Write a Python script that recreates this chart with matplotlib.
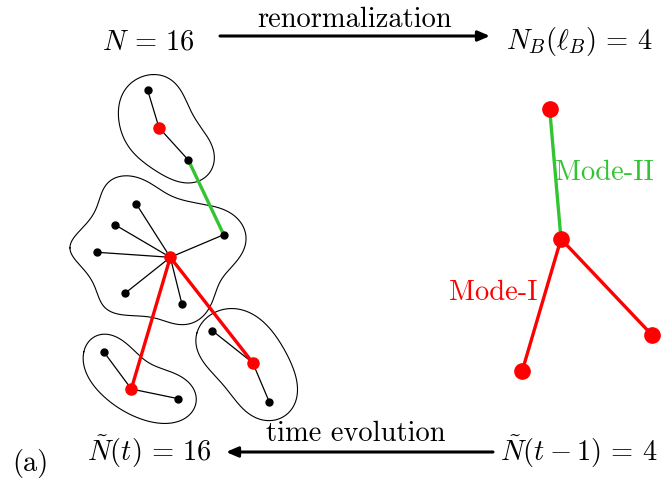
import numpy as np
import matplotlib
matplotlib.use("Agg")
import matplotlib.pyplot as plt

plt.rcParams['mathtext.fontset'] = 'cm'

# node positions (picture pixels, y down)
top_nodes = [(147.7, 90.3), (159.0, 127.7), (188.3, 160.0)]
hub = (170.3, 257.3)
hub_leaves = [(136.3, 204.0), (115.3, 225.0), (97.3, 252.3),
              (125.0, 293.3), (182.0, 304.3), (223.7, 234.7)]
bl_nodes = [(103.7, 351.7), (131.3, 389.0), (178.3, 398.7)]
br_nodes = [(212.3, 330.7), (252.7, 362.7), (269.3, 402.0)]

# renormalized network
boxes = [(549.7, 109.3), (561.0, 239.0), (522.3, 370.7), (652.0, 335.0)]

# box outlines (control points)
blob_top = [(153, 75), (172, 80), (183, 95), (197, 122), (212, 145), (213, 165),
            (203, 180), (183, 182), (157, 172), (133, 152), (120, 128), (120, 102), (130, 83)]
blob_mid = [(68, 248), (80, 230), (93, 217), (102, 190), (117, 177), (137, 178),
            (167, 193), (190, 202), (213, 207), (233, 213), (245, 232), (242, 253),
            (223, 277), (213, 300), (200, 318), (180, 325), (160, 320), (137, 315),
            (110, 312), (98, 300), (92, 277), (77, 263)]
blob_bl = [(83, 352), (92, 338), (108, 334), (125, 343), (142, 358), (165, 370),
           (188, 382), (197, 400), (188, 417), (165, 423), (135, 417), (108, 400), (90, 380)]
blob_br = [(197, 333), (207, 317), (223, 310), (250, 312), (273, 333), (290, 360),
           (297, 387), (292, 410), (273, 420), (250, 415), (230, 393), (210, 370), (197, 350)]


def smooth_closed(pts, keep, n=30, m_out=400):
    P = np.array(pts, dtype=float)
    m = len(P)
    t = np.linspace(0, 1, n, endpoint=False)[:, None]
    out = []
    for i in range(m):
        p0, p1, p2, p3 = P[i - 1], P[i], P[(i + 1) % m], P[(i + 2) % m]
        out.append(0.5 * (2 * p1 + (-p0 + p2) * t + (2 * p0 - 5 * p1 + 4 * p2 - p3) * t ** 2
                          + (-p0 + 3 * p1 - 3 * p2 + p3) * t ** 3))
    c = np.vstack(out)
    c = np.vstack([c, c[:1]])
    # resample by arc length, then keep low harmonics only
    s = np.r_[0, np.cumsum(np.hypot(*np.diff(c, axis=0).T))]
    u = np.linspace(0, s[-1], m_out, endpoint=False)
    z = np.interp(u, s, c[:, 0]) + 1j * np.interp(u, s, c[:, 1])
    F = np.fft.fft(z)
    F[keep + 1:m_out - keep] = 0
    z = np.fft.ifft(F)
    z = np.r_[z, z[:1]]
    return z.real, z.imag


def edge(ax, a, b, **kw):
    ax.plot([a[0], b[0]], [a[1], b[1]], solid_capstyle='round', **kw)


RED = '#ff0000'
GREEN = '#33c433'

fig = plt.figure(figsize=(6.63, 4.83), dpi=100)
ax = fig.add_axes([0, 0, 1, 1])
ax.set_xlim(0, 663)
ax.set_ylim(483, 0)
ax.axis('off')

for b, k in ((blob_top, 4), (blob_mid, 7), (blob_bl, 4), (blob_br, 4)):
    x, y = smooth_closed(b, k)
    ax.plot(x, y, color='black', lw=0.8)

thin = dict(color='black', lw=0.9, zorder=2)
edge(ax, top_nodes[0], top_nodes[1], **thin)
edge(ax, top_nodes[1], top_nodes[2], **thin)
for leaf in hub_leaves:
    edge(ax, hub, leaf, **thin)
edge(ax, bl_nodes[0], bl_nodes[1], **thin)
edge(ax, bl_nodes[1], bl_nodes[2], **thin)
edge(ax, br_nodes[0], br_nodes[1], **thin)
edge(ax, br_nodes[1], br_nodes[2], **thin)

thick = dict(lw=2.4, zorder=3)
edge(ax, top_nodes[2], hub_leaves[5], color=GREEN, **thick)
edge(ax, hub, bl_nodes[1], color=RED, **thick)
edge(ax, hub, br_nodes[1], color=RED, **thick)

blacks = [top_nodes[0], top_nodes[2]] + hub_leaves + [bl_nodes[0], bl_nodes[2], br_nodes[0], br_nodes[2]]
reds = [top_nodes[1], hub, bl_nodes[1], br_nodes[1]]
ax.plot([p[0] for p in blacks], [p[1] for p in blacks], 'o', color='black', ms=5, zorder=4)
ax.plot([p[0] for p in reds], [p[1] for p in reds], 'o', color=RED, ms=8, zorder=4)

# right side
edge(ax, boxes[0], boxes[1], color=GREEN, **thick)
edge(ax, boxes[1], boxes[2], color=RED, **thick)
edge(ax, boxes[1], boxes[3], color=RED, **thick)
ax.plot([p[0] for p in boxes], [p[1] for p in boxes], 'o', color=RED, ms=11, zorder=4)

fs = 20.5
rm = dict(family='cmr10', fontsize=fs)
ax.text(604, 173, 'Mode-II', color=GREEN, ha='center', va='center', **rm)
ax.text(493, 293, 'Mode-I', color=RED, ha='center', va='center', **rm)

ax.text(148, 49, r'$N\,=\,16$', fontsize=fs, ha='center', va='baseline')
ax.text(579, 49, r'$N_B(\ell_B)\,=\,4$', fontsize=fs, ha='center', va='baseline')
ax.text(355, 27, 'renormalization', ha='center', va='baseline', **rm)
ax.annotate('', xy=(490, 36), xytext=(220, 36),
            arrowprops=dict(arrowstyle='-|>,head_length=0.7,head_width=0.3', lw=2.2, color='black',
                            shrinkA=0, shrinkB=0))

ax.text(149, 461, r'$\tilde{N}(t)\,=\,16$', fontsize=fs, ha='center', va='baseline')
ax.text(579, 461, r'$\tilde{N}(t-1)\,=\,4$', fontsize=fs, ha='center', va='baseline')
ax.text(356, 441, 'time evolution', ha='center', va='baseline', **rm)
ax.text(30, 471, '(a)', ha='center', va='baseline', **rm)
ax.annotate('', xy=(226, 452), xytext=(493, 452),
            arrowprops=dict(arrowstyle='-|>,head_length=0.7,head_width=0.3', lw=2.2, color='black',
                            shrinkA=0, shrinkB=0))

fig.savefig('out.png', dpi=100)
